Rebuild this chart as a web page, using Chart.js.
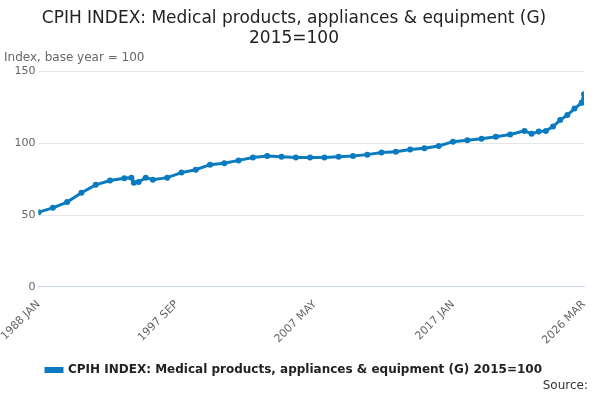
<!DOCTYPE html>
<html lang="en">
<head>
  <meta charset="UTF-8" />
  <title>CPIH INDEX: Medical products</title>
  <script src="https://cdn.jsdelivr.net/npm/chart.js"></script>
  <style>
    body { margin: 0; font-family: 'DejaVu Sans', sans-serif; background: #fff; }
    .wrap { position: relative; width: 600px; height: 400px; }
    .source { position: absolute; right: 12px; bottom: 8px; font-size: 12px; color: #333; }
  </style>
</head>
<body>
  <div class="wrap">
    <canvas id="cpih" width="600" height="400"></canvas>
    <div class="source">Source:</div>
  </div>

  <script>
    // months since 1988 JAN, and index values
    const months = [0, 12, 24, 36, 48, 60, 72, 78, 80, 84, 90, 96, 108, 120, 132, 144, 156, 168, 180, 192,
      204, 216, 228, 240, 252, 264, 276, 288, 300, 312, 324, 336, 348, 360, 372, 384, 396, 408,
      414, 420, 426, 432, 438, 444, 450, 456, 458];
    const values = [52, 55, 59, 65.5, 71, 74, 75.5, 76, 72.5, 73, 76, 74.5, 76, 79.5, 81.5, 85, 86, 88, 90, 91,
      90.5, 90, 90, 90, 90.5, 91, 92, 93.5, 94, 95.5, 96.5, 98, 101, 102, 103, 104.5, 106, 108.5,
      106.5, 108, 108.5, 111.5, 116, 119.5, 124, 128, 134];
    const tickMonths = [0, 116, 232, 348, 458];
    const tickLabels = ['1988 JAN', '1997 SEP', '2007 MAY', '2017 JAN', '2026 MAR'];
    const seriesName = 'CPIH INDEX: Medical products, appliances & equipment (G) 2015=100';

    Chart.defaults.font.family = "'DejaVu Sans', sans-serif";
    Chart.defaults.color = '#666';

    new Chart(document.getElementById('cpih'), {
      type: 'line',
      data: {
        datasets: [{
          label: seriesName,
          data: months.map((m, i) => ({ x: m, y: values[i] })),
          borderColor: '#0a7bc1',
          backgroundColor: '#0a7bc1',
          borderWidth: 3,
          pointRadius: 1.5,
          tension: 0
        }]
      },
      options: {
        responsive: false,
        animation: false,
        layout: { padding: { left: 4, right: 16, bottom: 14 } },
        plugins: {
          title: {
            display: true,
            text: ['CPIH INDEX: Medical products, appliances & equipment (G)', '2015=100'],
            color: '#222',
            font: { size: 17, weight: 'normal' },
            padding: { top: 8, bottom: 2 }
          },
          subtitle: {
            display: true,
            text: 'Index, base year = 100',
            align: 'start',
            color: '#666',
            font: { size: 12 },
            padding: { bottom: 6 }
          },
          legend: {
            position: 'bottom',
            labels: {
              color: '#222',
              font: { size: 12, weight: 'bold' },
              boxWidth: 16,
              boxHeight: 3,
              padding: 14
            }
          },
          tooltip: { enabled: false }
        },
        scales: {
          x: {
            type: 'linear',
            min: 0,
            max: 458,
            grid: { display: false, drawTicks: true },
            border: { color: '#ccd6eb' },
            afterBuildTicks: axis => { axis.ticks = tickMonths.map(v => ({ value: v })); },
            ticks: {
              maxRotation: 45,
              minRotation: 45,
              font: { size: 11 },
              callback: v => tickLabels[tickMonths.indexOf(v)]
            }
          },
          y: {
            min: 0,
            max: 150,
            ticks: { stepSize: 50, font: { size: 11 } },
            grid: { color: '#e6e6e6', drawTicks: false },
            border: { display: false }
          }
        }
      }
    });
  </script>
</body>
</html>
